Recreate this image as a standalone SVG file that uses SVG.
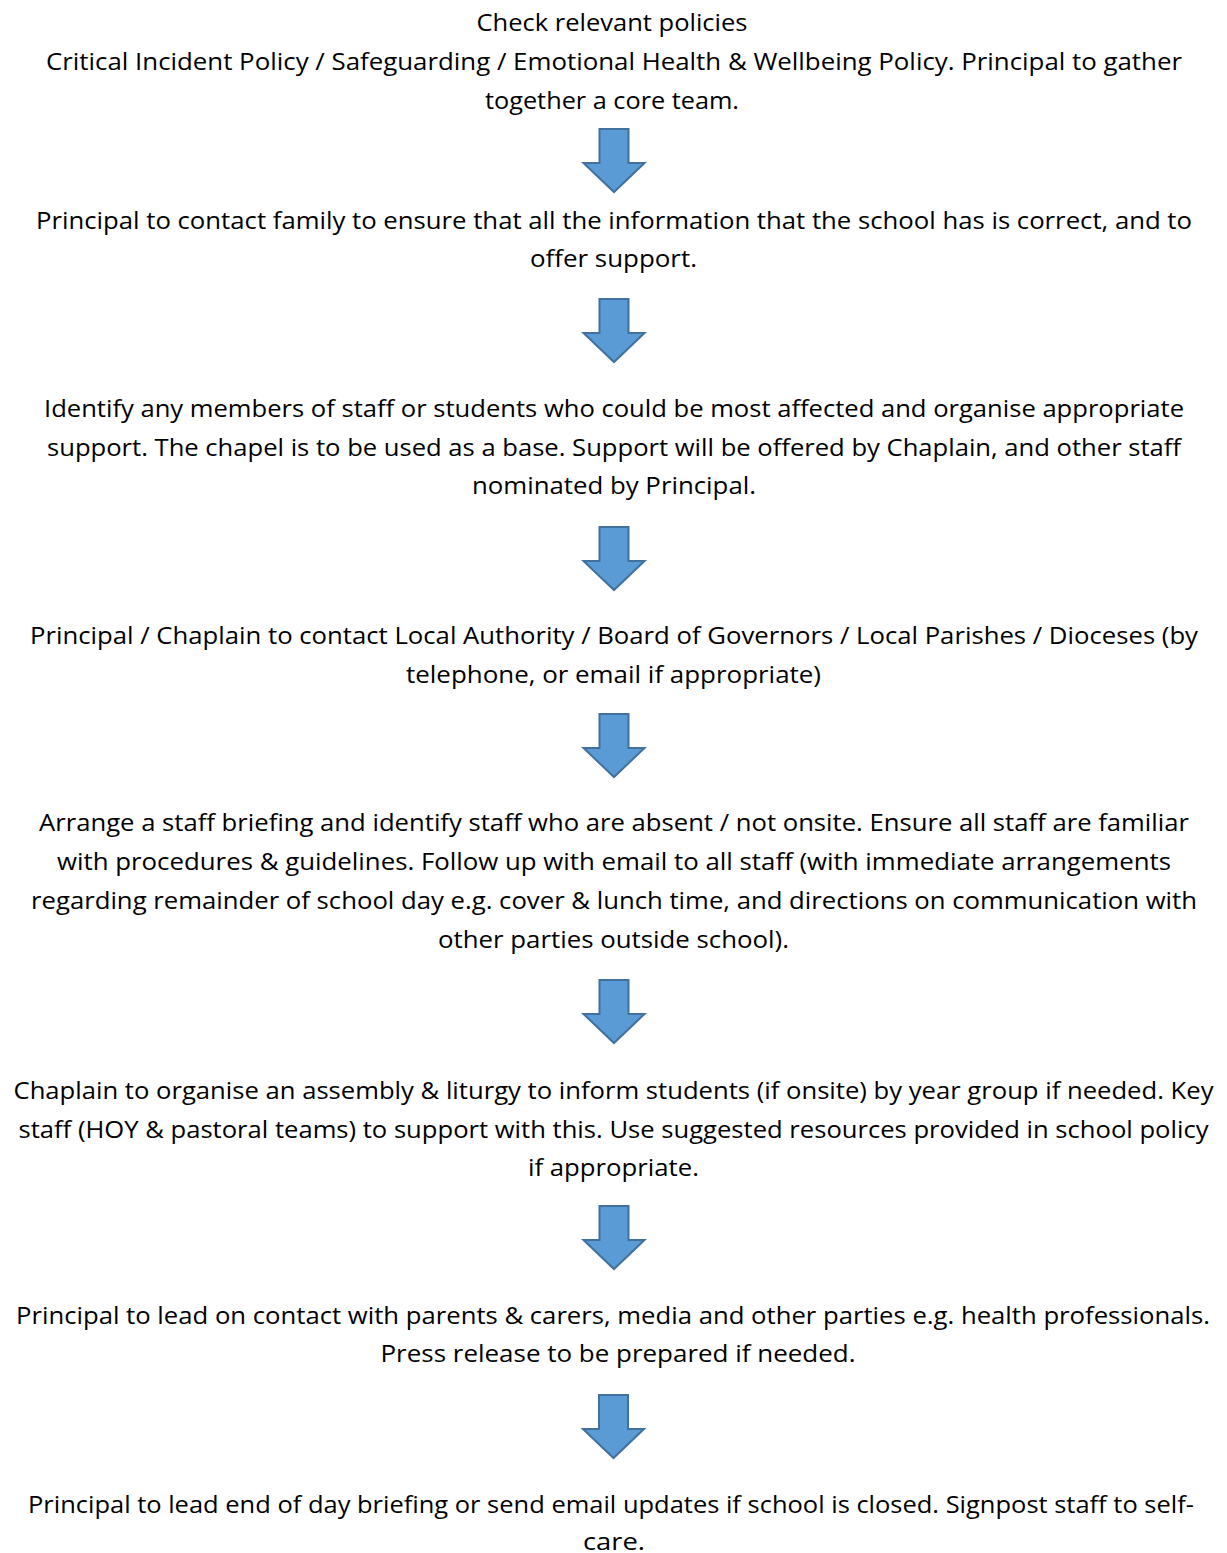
<svg xmlns="http://www.w3.org/2000/svg" xmlns:xlink="http://www.w3.org/1999/xlink" width="1227" height="1553" viewBox="0 0 1227 1553">
  <style>
    text { font-family: "Open Sans", "Noto Sans", "Liberation Sans", sans-serif; font-size: 24.5px; fill: #000; text-anchor: middle; }
    .arrow { fill: #5B9BD5; stroke: #41719C; stroke-width: 2; stroke-linejoin: miter; }
  </style>
  <defs>
    <!-- block down-arrow, top-centre at origin -->
    <path id="down" d="M -14.5 0 L 14.5 0 L 14.5 34 L 30.5 34 L 0 63 L -30.5 34 L -14.5 34 Z"/>
  </defs>
  <rect width="1227" height="1553" fill="#fff"/>

  <g id="step1">
    <text x="612" y="31" textLength="271" lengthAdjust="spacingAndGlyphs">Check relevant policies</text>
    <text x="614" y="70" textLength="1136" lengthAdjust="spacingAndGlyphs">Critical Incident Policy / Safeguarding / Emotional Health &amp; Wellbeing Policy. Principal to gather</text>
    <text x="612" y="109" textLength="254" lengthAdjust="spacingAndGlyphs">together a core team.</text>
  </g>
  <g id="step2">
    <text x="614" y="229" textLength="1156" lengthAdjust="spacingAndGlyphs">Principal to contact family to ensure that all the information that the school has is correct, and to</text>
    <text x="613.5" y="267" textLength="167" lengthAdjust="spacingAndGlyphs">offer support.</text>
  </g>
  <g id="step3">
    <text x="614" y="417" textLength="1140" lengthAdjust="spacingAndGlyphs">Identify any members of staff or students who could be most affected and organise appropriate</text>
    <text x="614" y="456" textLength="1134" lengthAdjust="spacingAndGlyphs">support. The chapel is to be used as a base. Support will be offered by Chaplain, and other staff</text>
    <text x="614" y="494" textLength="284" lengthAdjust="spacingAndGlyphs">nominated by Principal.</text>
  </g>
  <g id="step4">
    <text x="614" y="644" textLength="1168" lengthAdjust="spacingAndGlyphs">Principal / Chaplain to contact Local Authority / Board of Governors / Local Parishes / Dioceses (by</text>
    <text x="613.5" y="683" textLength="415" lengthAdjust="spacingAndGlyphs">telephone, or email if appropriate)</text>
  </g>
  <g id="step5">
    <text x="614" y="831" textLength="1150" lengthAdjust="spacingAndGlyphs">Arrange a staff briefing and identify staff who are absent / not onsite. Ensure all staff are familiar</text>
    <text x="614" y="870" textLength="1114" lengthAdjust="spacingAndGlyphs">with procedures &amp; guidelines. Follow up with email to all staff (with immediate arrangements</text>
    <text x="614" y="909" textLength="1166" lengthAdjust="spacingAndGlyphs">regarding remainder of school day e.g. cover &amp; lunch time, and directions on communication with</text>
    <text x="613.5" y="948" textLength="351" lengthAdjust="spacingAndGlyphs">other parties outside school).</text>
  </g>
  <g id="step6">
    <text x="613.5" y="1099" textLength="1200" lengthAdjust="spacingAndGlyphs">Chaplain to organise an assembly &amp; liturgy to inform students (if onsite) by year group if needed. Key</text>
    <text x="613.5" y="1138" textLength="1190" lengthAdjust="spacingAndGlyphs">staff (HOY &amp; pastoral teams) to support with this. Use suggested resources provided in school policy</text>
    <text x="613.5" y="1176" textLength="171" lengthAdjust="spacingAndGlyphs">if appropriate.</text>
  </g>
  <g id="step7">
    <text x="613" y="1324" textLength="1194" lengthAdjust="spacingAndGlyphs">Principal to lead on contact with parents &amp; carers, media and other parties e.g. health professionals.</text>
    <text x="618" y="1362" textLength="475" lengthAdjust="spacingAndGlyphs">Press release to be prepared if needed.</text>
  </g>
  <g id="step8">
    <text x="611" y="1513" textLength="1166" lengthAdjust="spacingAndGlyphs">Principal to lead end of day briefing or send email updates if school is closed. Signpost staff to self-</text>
    <text x="614" y="1550" textLength="62" lengthAdjust="spacingAndGlyphs">care.</text>
  </g>

  <g id="connectors">
    <use href="#down" xlink:href="#down" class="arrow" x="614" y="129"/>
    <use href="#down" xlink:href="#down" class="arrow" x="614" y="299"/>
    <use href="#down" xlink:href="#down" class="arrow" x="614" y="527"/>
    <use href="#down" xlink:href="#down" class="arrow" x="614" y="714"/>
    <use href="#down" xlink:href="#down" class="arrow" x="614" y="980"/>
    <use href="#down" xlink:href="#down" class="arrow" x="614" y="1206"/>
    <use href="#down" xlink:href="#down" class="arrow" x="613.5" y="1395"/>
  </g>
</svg>
